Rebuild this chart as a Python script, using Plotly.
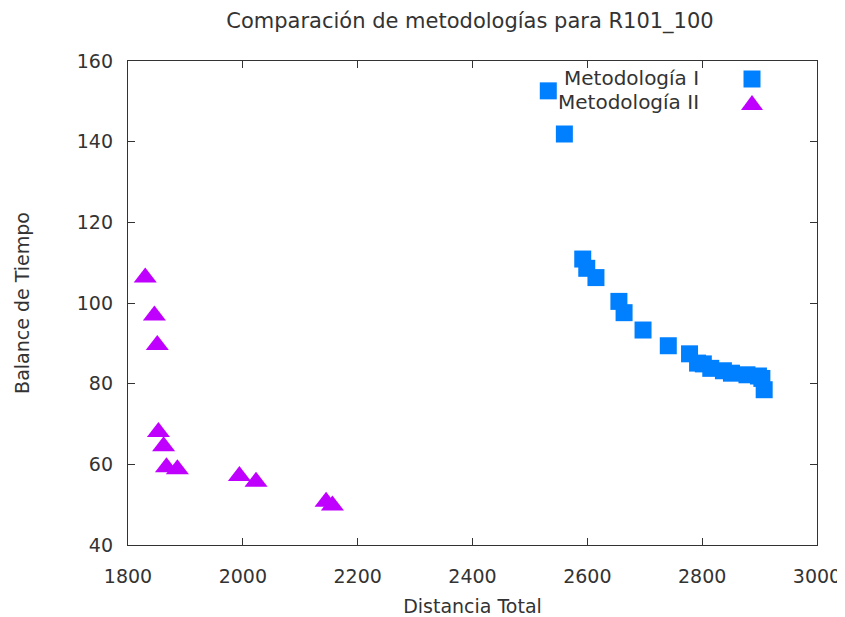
import plotly.graph_objects as go

# Metodología I (blue squares)
m1_dist = [2532, 2560, 2592, 2599, 2615, 2655, 2664, 2697, 2741, 2778, 2792, 2802,
           2815, 2837, 2851, 2878, 2898, 2904, 2908]
m1_bal = [152.6, 141.9, 110.9, 108.6, 106.3, 100.4, 97.6, 93.3, 89.4, 87.4, 85.1, 84.9,
          83.8, 83.2, 82.6, 82.2, 81.9, 81.3, 78.5]

# Metodología II (purple triangles)
m2_dist = [1830, 1846, 1851, 1853, 1862, 1867, 1886, 1994, 2023, 2145, 2156]
m2_bal = [106.3, 96.9, 89.6, 68.0, 64.5, 59.3, 58.8, 57.1, 55.7, 50.7, 49.8]

series_names = ["Metodología I", "Metodología II"]
colors = ["#0080ff", "#c000ff"]

x_ticks = [1800, 2000, 2200, 2400, 2600, 2800, 3000]
y_ticks = [40, 60, 80, 100, 120, 140, 160]

FONT = "DejaVu Sans"
TXT = "#333333"

# page body has an 8px margin: figure is sized to fit inside the window
W, H = 837, 609
ML, MR, MT, MB = 120, 28, 53, 72
PW = W - ML - MR
PH = H - MT - MB


def px_x(p):  # window pixel -> paper x
    return (p - 128) / PW


def px_y(p):  # window pixel -> paper y
    return (545 - p) / PH


fig = go.Figure()
fig.add_trace(go.Scatter(x=m1_dist, y=m1_bal, mode="markers", name=series_names[0],
                         marker=dict(symbol="square", size=17, color=colors[0])))
fig.add_trace(go.Scatter(x=m2_dist, y=m2_bal, mode="markers", name=series_names[1],
                         marker=dict(symbol="triangle-up", size=20, color=colors[1])))

axis_common = dict(showgrid=False, zeroline=False, showline=True, mirror="ticks",
                   linecolor=TXT, linewidth=1.3, ticks="inside", ticklen=7,
                   tickcolor=TXT, tickwidth=1.3, automargin=False,
                   tickfont=dict(family=FONT, size=19, color=TXT))

fig.update_layout(
    width=W, height=H,
    margin=dict(l=ML, r=MR, t=MT, b=MB),
    paper_bgcolor="white", plot_bgcolor="white",
    showlegend=False,
    title=dict(text="Comparación de metodologías para R101_100", x=(470 - 8) / W, xanchor="center",
               y=1 - (21 - 8) / H, yanchor="middle", automargin=False,
               font=dict(family=FONT, size=21, color=TXT)),
    xaxis=dict(range=[1800, 3000], tickvals=x_ticks, ticklabelstandoff=14,
               title=dict(text="Distancia Total", font=dict(family=FONT, size=19, color=TXT),
                          standoff=20),
               **axis_common),
    yaxis=dict(range=[40, 160], tickvals=y_ticks, ticklabelstandoff=10,
               title=dict(text="Balance de Tiempo", font=dict(family=FONT, size=19, color=TXT),
                          standoff=42),
               **axis_common),
)

# gnuplot-style key: text right-aligned, sample to the right
for ty, txt in [(78, series_names[0]), (102, series_names[1])]:
    fig.add_annotation(xref="paper", yref="paper", x=px_x(701), y=px_y(ty),
                       text=txt, showarrow=False, xanchor="right", yanchor="middle",
                       font=dict(family=FONT, size=20, color=TXT))

# key samples
fig.add_shape(type="rect", xref="paper", yref="paper",
              x0=px_x(743.5), x1=px_x(760.5), y0=px_y(87.5), y1=px_y(70.5),
              fillcolor=colors[0], line=dict(width=0))
fig.add_shape(type="path", xref="paper", yref="paper",
              path=f"M {px_x(741)} {px_y(110)} L {px_x(763)} {px_y(110)} L {px_x(752)} {px_y(95)} Z",
              fillcolor=colors[1], line=dict(width=0))

fig.write_html("out.html")
